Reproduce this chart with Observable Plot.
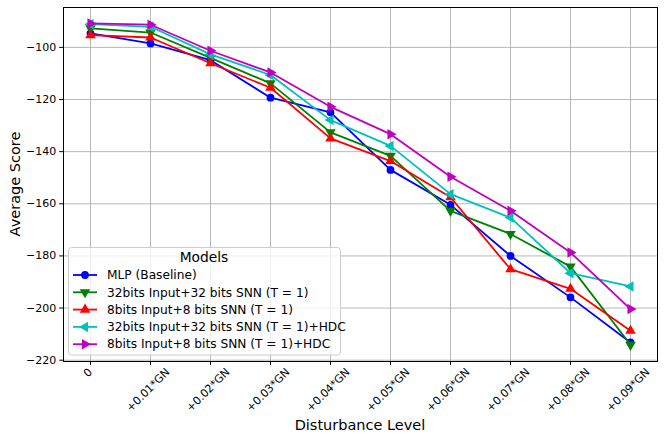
<!DOCTYPE html>
<html><head><meta charset="utf-8">
<script src="https://cdn.jsdelivr.net/npm/d3@7"></script>
<script src="https://cdn.jsdelivr.net/npm/@observablehq/plot@0.6"></script>
<style>
body{margin:0;background:#fff}
svg{font-family:"DejaVu Sans",sans-serif}
</style>
</head><body><div id="chart"></div>
<script>
const xLabels = ["0","+0.01*GN","+0.02*GN","+0.03*GN","+0.04*GN","+0.05*GN","+0.06*GN","+0.07*GN","+0.08*GN","+0.09*GN"];
const yTicks = [-220,-200,-180,-160,-140,-120,-100];
const seriesNames = ["MLP (Baseline)","32bits Input+32 bits SNN (T = 1)","8bits Input+8 bits SNN (T = 1)","32bits Input+32 bits SNN (T = 1)+HDC","8bits Input+8 bits SNN (T = 1)+HDC"];
const seriesColors = ["#0000ff","#008000","#ff0000","#00bfbf","#bf00bf"];
const seriesMarkers = ["circle","down","up","left","right"];
const mlp      = [-94.6,-98.5,-104.9,-119.3,-124.9,-147.0,-160.4,-180.0,-195.9,-213.2];
const snn32    = [-92.7,-94.3,-104.0,-113.8,-132.6,-141.6,-162.7,-171.6,-184.1,-214.1];
const snn8     = [-95.3,-96.2,-106.1,-115.5,-134.9,-143.6,-157.5,-185.1,-192.6,-208.7];
const snn32hdc = [-91.1,-92.1,-102.7,-110.6,-127.9,-137.8,-156.3,-165.3,-186.6,-191.7];
const snn8hdc  = [-90.8,-91.3,-101.3,-109.6,-122.8,-133.3,-149.6,-162.7,-178.7,-200.4];
const seriesValues = [mlp, snn32, snn8, snn32hdc, snn8hdc];

function triangle(angleDeg){
  return {draw(ctx, size){
    const r = Math.sqrt(size*4/(3*Math.sqrt(3)));
    for(let k=0;k<3;k++){
      const a = (angleDeg + k*120)*Math.PI/180;
      const px = r*Math.cos(a), py = r*Math.sin(a);
      if(k===0) ctx.moveTo(px,py); else ctx.lineTo(px,py);
    }
    ctx.closePath();
  }};
}
const symbolFor = {circle:"circle", up:triangle(-90), down:triangle(90), left:triangle(180), right:triangle(0)};

const idx = xLabels.map((d,i)=>i);
const rows = [];
seriesNames.forEach((name,s)=>seriesValues[s].forEach((v,i)=>rows.push({s, name, i, v})));

const tickFont = 11;
const canvas = document.createElement("canvas");
const cx = canvas.getContext("2d");
cx.font = tickFont + "px 'DejaVu Sans'";

const marks = [
  Plot.gridX(idx, {stroke:"#b0b0b0", strokeOpacity:0.9, strokeWidth:1}),
  Plot.gridY(yTicks, {stroke:"#b0b0b0", strokeOpacity:0.9, strokeWidth:1}),
];
seriesNames.forEach((name,s)=>{
  const data = rows.filter(r=>r.s===s);
  marks.push(Plot.line(data, {x:"i", y:"v", stroke:seriesColors[s], strokeWidth:1.8}));
  marks.push(Plot.dot(data, {x:"i", y:"v", fill:seriesColors[s], stroke:"none", r:3.9, symbol:()=>symbolFor[seriesMarkers[s]]}));
});
marks.push(Plot.frame({stroke:"#000", strokeWidth:1}));
marks.push(Plot.axisY(yTicks, {tickSize:3.8, tickPadding:3.5, tickFormat:d3.format("d"), label:null, fontSize:tickFont}));
marks.push(Plot.axisX(idx, {tickSize:3.8, tickFormat:()=>"", label:null}));
xLabels.forEach((lab,i)=>{
  const w = cx.measureText(lab).width;
  const off = 3.8 + 3.5 + (w + 11)*Math.SQRT1_2/2;
  marks.push(Plot.text([lab], {x:()=>i, text:d=>d, frameAnchor:"bottom", rotate:-45, dy:off, textAnchor:"middle", fontSize:tickFont, fill:"#000"}));
});

const chart = Plot.plot({
  width:665, height:441,
  marginLeft:63, marginRight:8, marginTop:7, marginBottom:80,
  style:{fontFamily:"DejaVu Sans", fontSize:tickFont+"px", color:"#000", background:"#fff"},
  x:{domain:[-0.45,9.45]},
  y:{domain:[-220.5,-84.7]},
  marks
});
document.getElementById("chart").appendChild(chart);

const svg = d3.select(chart);
svg.append("text").attr("x",360).attr("y",430).attr("text-anchor","middle")
  .attr("font-size",14.5).attr("fill","#000").text("Disturbance Level");
svg.append("text").attr("transform","translate(20,184) rotate(-90)").attr("text-anchor","middle")
  .attr("font-size",14.5).attr("fill","#000").text("Average Score");

// legend
const lg = svg.append("g").attr("text-anchor","start");
lg.append("rect").attr("x",68.5).attr("y",247.5).attr("width",272).attr("height",107.5).attr("rx",3)
  .attr("fill","#fff").attr("fill-opacity",0.8).attr("stroke","#cccccc").attr("stroke-width",1);
lg.append("text").attr("x",204).attr("y",262).attr("text-anchor","middle").attr("font-size",13.8).attr("fill","#000").text("Models");
seriesNames.forEach((name,s)=>{
  const y = 275 + s*17.3;
  lg.append("line").attr("x1",73).attr("x2",97).attr("y1",y).attr("y2",y).attr("stroke",seriesColors[s]).attr("stroke-width",1.8);
  const sym = symbolFor[seriesMarkers[s]];
  const p = d3.path();
  if(sym==="circle"){ p.arc(0,0,3.9,0,2*Math.PI); } else { sym.draw(p, Math.PI*3.9*3.9); }
  lg.append("path").attr("d",p.toString()).attr("transform",`translate(85,${y})`).attr("fill",seriesColors[s]);
  lg.append("text").attr("x",107).attr("y",y).attr("dy","0.35em").attr("text-anchor","start").attr("font-size",12.2).attr("fill","#000").text(name);
});
</script>
</body></html>
